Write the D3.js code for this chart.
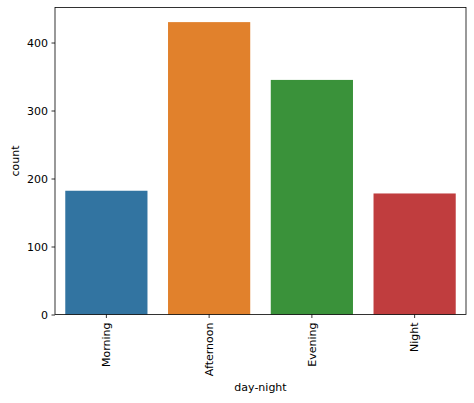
<!DOCTYPE html>
<html><head><meta charset="utf-8">
<script src="https://cdn.jsdelivr.net/npm/d3@7"></script>
<style>body{margin:0;background:#fff}svg{display:block}text{font-family:"DejaVu Sans",sans-serif;fill:#000}</style>
</head><body>
<script>
const categories = ["Morning","Afternoon","Evening","Night"];
const counts = [182, 430, 345, 178];
const colors = ["#3274a1","#e1812c","#3a923a","#c03d3e"];
const yTicks = [0,100,200,300,400];

const W=474,H=403;
const m={left:55,top:7.5,right:8,bottom:88.5};
const svg=d3.select("body").append("svg").attr("width",W).attr("height",H);
const iw=W-m.left-m.right, ih=H-m.top-m.bottom;
const g=svg.append("g").attr("transform",`translate(${m.left},${m.top})`);
const x=d3.scaleBand().domain(categories).range([0,iw]).paddingInner(0.2).paddingOuter(0.1);
const y=d3.scaleLinear().domain([0,d3.max(counts)*1.05]).range([ih,0]);

g.selectAll("rect.bar").data(categories).join("rect").attr("class","bar")
  .attr("x",d=>x(d)).attr("width",x.bandwidth())
  .attr("y",(d,i)=>y(counts[i])).attr("height",(d,i)=>ih-y(counts[i]))
  .attr("fill",(d,i)=>colors[i]);

const ya=g.append("g").call(d3.axisLeft(y).tickValues(yTicks).tickSize(3.5).tickPadding(3.5));
ya.selectAll("text").style("font-size","11px");
ya.select(".domain").remove();
const xa=g.append("g").attr("transform",`translate(0,${ih})`).call(d3.axisBottom(x).tickSize(3.5).tickPadding(3.5));
xa.select(".domain").remove();
xa.selectAll("text").style("font-size","11px").attr("transform","rotate(-90)")
  .attr("text-anchor","end").attr("x",-8).attr("y",0).attr("dy","0.35em");
g.selectAll(".tick line").attr("stroke","#000").attr("stroke-width",0.8);

g.append("rect").attr("width",iw).attr("height",ih).attr("fill","none").attr("stroke","#000").attr("stroke-width",0.8);

svg.append("text").attr("transform",`translate(19,${m.top+ih/2}) rotate(-90)`).attr("text-anchor","middle").style("font-size","11px").text("count");
svg.append("text").attr("x",m.left+iw/2).attr("y",391).attr("text-anchor","middle").style("font-size","11px").text("day-night");
</script>
</body></html>
